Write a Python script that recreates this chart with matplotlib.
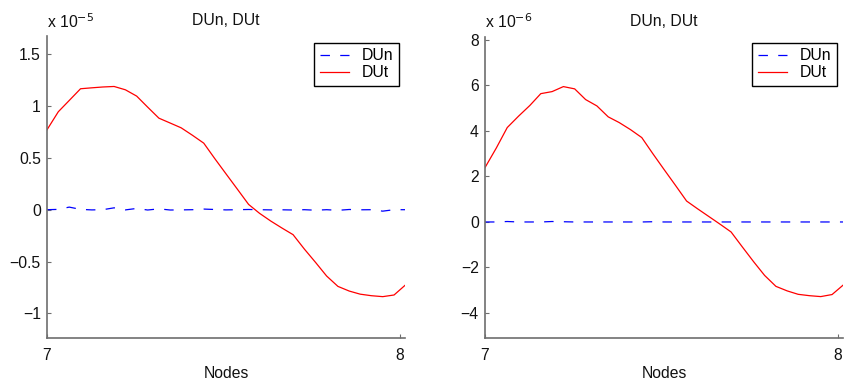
import matplotlib
matplotlib.use("Agg")
import matplotlib.pyplot as plt

plt.rcParams["font.family"] = ["Liberation Sans", "DejaVu Sans"]
plt.rcParams["font.size"] = 11.3
plt.rcParams["lines.scale_dashes"] = False

# Node positions along the segment
nodes = [7.000, 7.032, 7.063, 7.095, 7.127, 7.158, 7.190, 7.222, 7.254, 7.285,
         7.317, 7.349, 7.380, 7.412, 7.444, 7.475, 7.507, 7.539, 7.571, 7.602,
         7.634, 7.666, 7.697, 7.729, 7.761, 7.792, 7.824, 7.856, 7.887, 7.919,
         7.951, 7.983, 8.014]

# Case 1 (values in units of 1e-5)
dun_1 = [0.000, 0.003, 0.025, 0.003, -0.002, 0.000, 0.018, -0.002, 0.012, -0.003,
         0.008, -0.003, -0.002, 0.000, 0.006, 0.002, -0.002, 0.000, 0.002, 0.000,
         -0.002, -0.001, -0.003, 0.000, -0.005, 0.000, -0.006, 0.002, -0.001, 0.000,
         -0.014, 0.000, 0.000]
dut_1 = [0.771, 0.945, 1.054, 1.167, 1.176, 1.184, 1.189, 1.157, 1.096, 0.990,
         0.883, 0.836, 0.790, 0.718, 0.642, 0.494, 0.346, 0.199, 0.051, -0.035,
         -0.110, -0.178, -0.241, -0.380, -0.510, -0.640, -0.740, -0.785, -0.815, -0.830,
         -0.839, -0.823, -0.730]

# Case 2 (values in units of 1e-6)
dun_2 = [0.000, 0.000, 0.020, 0.000, 0.000, 0.000, 0.020, 0.010, 0.000, 0.000,
         0.000, 0.000, 0.000, 0.000, 0.000, 0.010, 0.000, 0.000, 0.000, 0.000,
         0.000, 0.000, 0.000, 0.000, 0.000, 0.000, 0.000, 0.000, 0.000, 0.000,
         0.000, 0.000, 0.000]
dut_2 = [2.39, 3.25, 4.15, 4.65, 5.12, 5.64, 5.73, 5.95, 5.85, 5.38,
         5.10, 4.62, 4.37, 4.06, 3.71, 3.01, 2.31, 1.62, 0.92, 0.58,
         0.24, -0.10, -0.44, -1.10, -1.75, -2.35, -2.83, -3.03, -3.18, -3.24,
         -3.28, -3.19, -2.78]

x_ticks = [7, 8]
y_ticks_1 = [-1, -0.5, 0, 0.5, 1, 1.5]
y_labels_1 = ["\u22121", "\u22120.5", "0", "0.5", "1", "1.5"]
y_ticks_2 = [-4, -2, 0, 2, 4, 6, 8]
y_labels_2 = ["\u22124", "\u22122", "0", "2", "4", "6", "8"]

W, H = 846, 387
FS = 11.3
fig = plt.figure(figsize=(W / 100, H / 100), dpi=100)

panels = [
    dict(rect=(47, 36, 405, 338), dun=dun_1, dut=dut_1, ylim=(-1.238, 1.676),
         yticks=y_ticks_1, ylabels=y_labels_1, exp="-5"),
    dict(rect=(485, 37, 843, 338), dun=dun_2, dut=dut_2, ylim=(-5.10, 8.13),
         yticks=y_ticks_2, ylabels=y_labels_2, exp="-6"),
]

spine_col = "#6e6e6e"
for p in panels:
    l, t, r, b = p["rect"]
    ax = fig.add_axes([l / W, 1 - b / H, (r - l) / W, (b - t) / H])
    ax.plot(nodes, p["dun"], color="#0000ff", lw=0.9, dashes=(6.8, 7.4), label="DUn")
    ax.plot(nodes, p["dut"], color="#ff0000", lw=0.9, label="DUt")
    ax.set_xlim(nodes[0], nodes[-1])
    ax.set_ylim(*p["ylim"])
    ax.set_xticks(x_ticks)
    ax.set_xticklabels([str(v) for v in x_ticks])
    ax.set_yticks(p["yticks"])
    ax.set_yticklabels(p["ylabels"])
    for s in ("top", "right"):
        ax.spines[s].set_visible(False)
    for s in ("left", "bottom"):
        ax.spines[s].set_color(spine_col)
        ax.spines[s].set_linewidth(1.2)
    ax.tick_params(direction="in", length=3, width=0.8, color=spine_col,
                   labelsize=FS, labelcolor="#111111")
    ax.tick_params(axis="x", pad=7)
    ax.tick_params(axis="y", pad=4.5)
    ax.set_xlabel("Nodes", fontsize=FS, labelpad=2, color="#111111")
    ax.set_title("DUn, DUt", fontsize=FS, pad=8, color="#111111")
    fig.text(l / W, 1 - 28 / H, r"x 10$^{%s}$" % p["exp"].replace("-", "\u2212"),
             fontsize=FS, ha="left", va="baseline", color="#111111")
    leg = ax.legend(loc="upper right", bbox_to_anchor=((r - 6) / W, 1 - 43 / H),
                    bbox_transform=fig.transFigure, fancybox=False, framealpha=1,
                    edgecolor="black", fontsize=FS, handlelength=1.9,
                    borderpad=0.35, labelspacing=0.1, handletextpad=0.8,
                    borderaxespad=0)
    leg.get_frame().set_linewidth(1.0)

fig.savefig("out.png", dpi=100)
